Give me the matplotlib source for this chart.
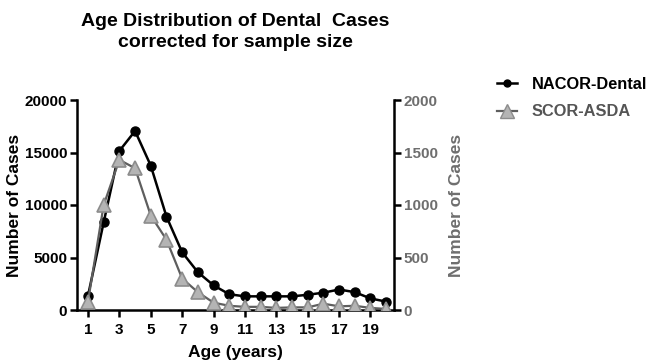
import matplotlib.pyplot as plt
from matplotlib.lines import Line2D

plt.rcParams['font.family'] = ['Liberation Sans', 'DejaVu Sans']
plt.rcParams['font.weight'] = 'bold'

# data
ages = list(range(1, 21))
nacor = [1350, 8350, 15150, 17050, 13750, 8900, 5500, 3600, 2350, 1500,
         1300, 1300, 1300, 1300, 1450, 1650, 1950, 1700, 1100, 800]
scor = [80, 1000, 1430, 1350, 900, 670, 300, 170, 70, 40,
        30, 30, 20, 25, 25, 60, 35, 40, 20, 10]
xticks = list(range(1, 20, 2))

GREY_TXT = '#6e6e6e'
GREY_LINE = '#5e5e5e'

fig = plt.figure(figsize=(6.51, 3.62), dpi=100)
ax = fig.add_axes([77 / 651, 1 - 310 / 362, (394 - 77) / 651, 210 / 362])
ax2 = ax.twinx()

ax.plot(ages, nacor, '-o', color='black', lw=1.8, ms=6.5, zorder=3)
ax2.plot(ages, scor, '-^', color=GREY_LINE, lw=1.6, ms=10,
         mfc='#b4b4b4', mec='#8c8c8c', mew=1.2)

ax.set_xlim(0.3, 20.5)
ax.set_ylim(0, 20000)
ax2.set_ylim(0, 2000)
ax.set_xticks(xticks)
ax.set_yticks(range(0, 20001, 5000))
ax2.set_yticks(range(0, 2001, 500))

for a in (ax, ax2):
    a.spines['top'].set_visible(False)
    for s in a.spines.values():
        s.set_linewidth(1.8)
ax.spines['right'].set_visible(False)
ax2.spines['left'].set_visible(False)
ax2.spines['bottom'].set_visible(False)

ax.tick_params(width=1.8, length=5, labelsize=11, pad=2)
ax.tick_params(axis='x', pad=4)
ax2.tick_params(width=1.8, length=5, labelsize=11, pad=2, labelcolor=GREY_TXT)

ax.set_xlabel('Age (years)', fontsize=12.5, fontweight='bold', labelpad=6)
ax.set_ylabel('Number of Cases', fontsize=12.5, fontweight='bold', labelpad=2)
ax2.set_ylabel('Number of Cases', fontsize=12.5, fontweight='bold', color=GREY_TXT, labelpad=8)

ax.set_title('Age Distribution of Dental  Cases\ncorrected for sample size',
             fontsize=14, fontweight='bold', pad=38, linespacing=1.35)

handles = [
    Line2D([], [], color='black', marker='o', lw=1.8, ms=5),
    Line2D([], [], color=GREY_LINE, marker='^', lw=1.6, ms=10, mfc='#b4b4b4', mec='#8c8c8c'),
]
leg = fig.legend(handles, ['NACOR-Dental', 'SCOR-ASDA'], loc='upper left',
                 bbox_to_anchor=(497 / 651, 1 - 77 / 362), frameon=False,
                 borderaxespad=0, borderpad=0,
                 fontsize=11.8, handlelength=1.2, handletextpad=0.9, labelspacing=0.75)
leg.get_texts()[1].set_color('#555555')

fig.savefig('out.png', dpi=100)
